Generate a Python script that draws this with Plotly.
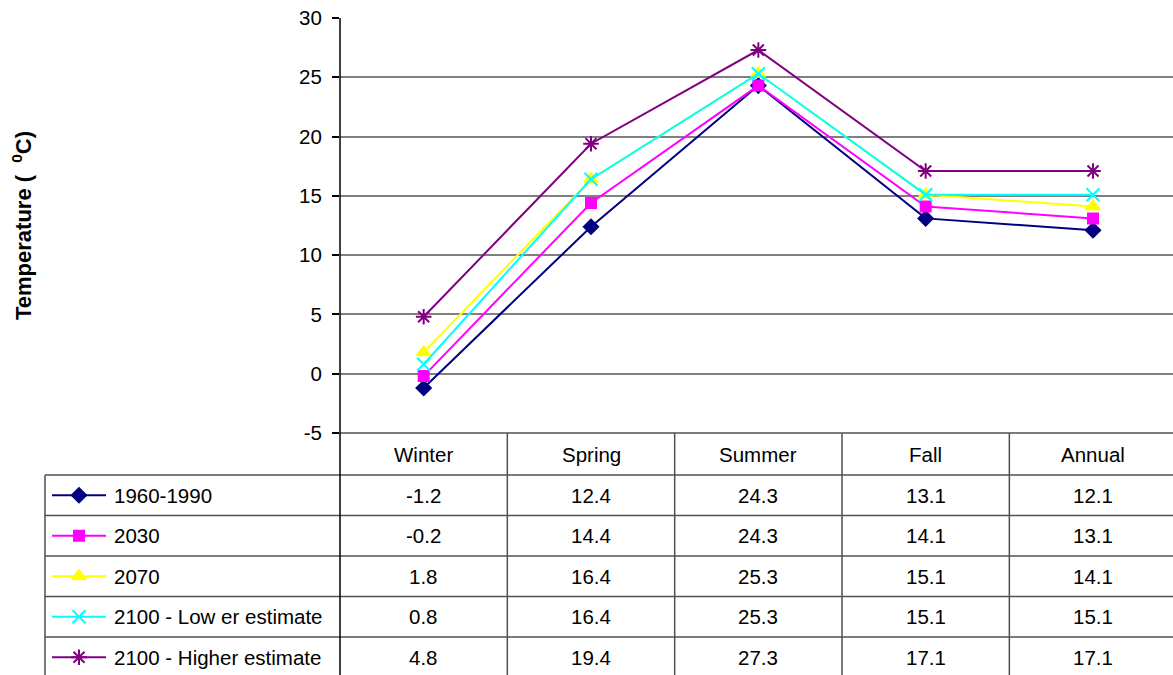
import plotly.graph_objects as go

# Seasonal mean temperature (°C) by scenario
seasons = ["Winter", "Spring", "Summer", "Fall", "Annual"]
series_names = ["1960-1990", "2030", "2070", "2100 - Low er estimate", "2100 - Higher estimate"]
t_1960_1990 = [-1.2, 12.4, 24.3, 13.1, 12.1]
t_2030 = [-0.2, 14.4, 24.3, 14.1, 13.1]
t_2070 = [1.8, 16.4, 25.3, 15.1, 14.1]
t_2100_low = [0.8, 16.4, 25.3, 15.1, 15.1]
t_2100_high = [4.8, 19.4, 27.3, 17.1, 17.1]
y_ticks = [-5, 0, 5, 10, 15, 20, 25, 30]

all_series = [t_1960_1990, t_2030, t_2070, t_2100_low, t_2100_high]
colors = ["#000080", "#FF00FF", "#FFFF00", "#00FFFF", "#800080"]
symbols = ["diamond", "square", "triangle-up", "x-thin-open", "asterisk-open"]
msizes = [11, 10, 12, 13, 13]

W, H = 1173, 675
FONT = "Arial, Liberation Sans, sans-serif"
FS = 20.5


def py(y):
    """pixel row -> paper y"""
    return 1 - y / H


def px(x):
    return x / W


plot_left, plot_top, plot_bottom = 340, 18, 433
row_edges = [433, 475, 515.5, 556, 596.5, 637, 677.5]
key_left = 45
grid_col = "#808080"
table_col = "#505050"

fig = go.Figure()

for name, vals, c, s, ms in zip(series_names, all_series, colors, symbols, msizes):
    fig.add_trace(go.Scatter(
        x=list(range(len(seasons))), y=vals, name=name, mode="lines+markers",
        line=dict(color=c, width=2),
        marker=dict(symbol=s, size=ms, color=c, line=dict(color=c, width=2)),
        showlegend=False, cliponaxis=False,
    ))

# Legend keys drawn in the left column of the data table (pixel-space axes)
key_x0, key_x1 = 52, 106
for i, (name, c, s, ms) in enumerate(zip(series_names, colors, symbols, msizes)):
    yc = (row_edges[i + 1] + row_edges[i + 2]) / 2
    fig.add_trace(go.Scatter(
        x=[key_x0, (key_x0 + key_x1) / 2, key_x1], y=[yc, yc, yc],
        mode="lines", line=dict(color=c, width=2),
        xaxis="x2", yaxis="y2", showlegend=False, hoverinfo="skip", cliponaxis=False,
    ))
    fig.add_trace(go.Scatter(
        x=[(key_x0 + key_x1) / 2], y=[yc], mode="markers",
        marker=dict(symbol=s, size=ms, color=c, line=dict(color=c, width=2)),
        xaxis="x2", yaxis="y2", showlegend=False, hoverinfo="skip", cliponaxis=False,
    ))
    fig.add_annotation(
        x=px(112), y=py(yc), xref="paper", yref="paper", text=name,
        showarrow=False, xanchor="left", yanchor="middle",
        font=dict(family=FONT, size=FS, color="black"),
    )

shapes = []
# table horizontal rules
shapes.append(dict(type="line", xref="paper", yref="paper",
                   x0=px(plot_left), x1=1, y0=py(row_edges[0]), y1=py(row_edges[0]),
                   line=dict(color=table_col, width=1.5)))
for yy in row_edges[1:-1]:
    shapes.append(dict(type="line", xref="paper", yref="paper",
                       x0=px(key_left), x1=1, y0=py(yy), y1=py(yy),
                       line=dict(color=table_col, width=1.5)))
# left border of legend column
shapes.append(dict(type="line", xref="paper", yref="paper",
                   x0=px(key_left), x1=px(key_left), y0=py(row_edges[1]), y1=0,
                   line=dict(color=table_col, width=1.5)))
# column dividers between seasons
for k in range(len(seasons)):
    shapes.append(dict(type="line", xref="x", yref="paper",
                       x0=k + 0.5, x1=k + 0.5, y0=py(row_edges[0]), y1=0,
                       line=dict(color=table_col, width=1.5)))
# value axis line continues down through the table
shapes.append(dict(type="line", xref="paper", yref="paper",
                   x0=px(plot_left), x1=px(plot_left), y0=py(plot_top), y1=0,
                   line=dict(color="black", width=1.5)))
fig.update_layout(shapes=shapes)

# header row: season names
for k, sname in enumerate(seasons):
    fig.add_annotation(x=k, y=py((row_edges[0] + row_edges[1]) / 2), xref="x", yref="paper",
                       text=sname, showarrow=False, xanchor="center", yanchor="middle",
                       font=dict(family=FONT, size=FS, color="black"))
# value cells
for i, vals in enumerate(all_series):
    yc = (row_edges[i + 1] + row_edges[i + 2]) / 2
    for k, v in enumerate(vals):
        fig.add_annotation(x=k, y=py(yc), xref="x", yref="paper",
                           text=f"{v:.1f}", showarrow=False, xanchor="center", yanchor="middle",
                           font=dict(family=FONT, size=FS, color="black"))

# y-axis title
fig.add_annotation(x=px(22), y=py(226), xref="paper", yref="paper",
                   text="Temperature (  <sup>0</sup>C)", textangle=-90, showarrow=False,
                   xanchor="center", yanchor="middle",
                   font=dict(family=FONT, size=22, color="black", weight="bold"))

fig.update_layout(
    width=W, height=H,
    margin=dict(l=0, r=0, t=0, b=0, pad=0, autoexpand=False),
    paper_bgcolor="white", plot_bgcolor="rgba(0,0,0,0)",
    font=dict(family=FONT, size=FS, color="black"),
    showlegend=False,
    xaxis=dict(domain=[px(plot_left), 1], range=[-0.5, 4.478], showgrid=False, automargin=False,
               showticklabels=False, ticks="", zeroline=False, showline=False, fixedrange=True),
    yaxis=dict(domain=[py(plot_bottom), py(plot_top)], range=[-5, 30], automargin=False,
               tickvals=y_ticks, ticktext=[str(t) for t in y_ticks],
               ticks="outside", ticklen=7, tickcolor="black", tickwidth=1.5,
               ticklabelstandoff=6,
               showgrid=True, gridcolor=grid_col, gridwidth=1.5, zeroline=False, showline=False,
               tickfont=dict(family=FONT, size=FS, color="black")),
    xaxis2=dict(domain=[0, 1], range=[0, W], visible=False, anchor="y2", automargin=False),
    yaxis2=dict(domain=[0, 1], range=[H, 0], visible=False, anchor="x2", automargin=False),
)

fig.write_html("out.html")
